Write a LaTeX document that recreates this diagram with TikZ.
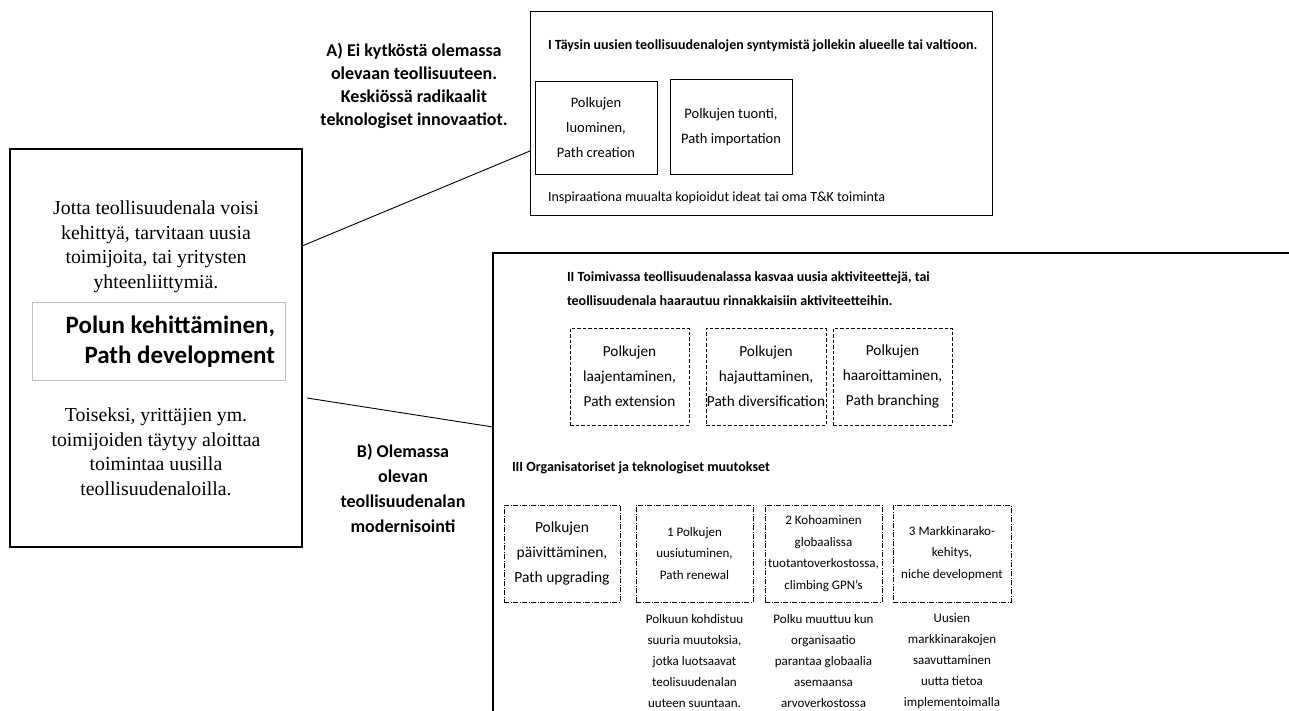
\documentclass[tikz,border=0pt]{standalone}
\usepackage{fontspec}
\setmainfont{Carlito}
\newfontfamily\timesf{Liberation Serif}
\usetikzlibrary{calc}
\begin{document}
\begin{tikzpicture}[x=1pt,y=-1pt,
  every node/.style={inner sep=0pt,outer sep=0pt},
  mainbox/.style={draw,line width=2.4pt},
  framebox/.style={draw,line width=1pt},
  greybox/.style={draw=black!25,line width=0.7pt},
  solidbox/.style={draw,line width=0.9pt,align=center,font=\fontsize{14.5}{25}\selectfont},
  dashbox/.style={draw,line width=0.8pt,dash pattern=on 3.5pt off 2pt,align=center,font=\fontsize{15.3}{25}\selectfont},
  dotbox/.style={draw,line width=0.8pt,dash pattern=on 5pt off 1.5pt on 1pt off 1.5pt,align=center,font=\fontsize{13}{21.7}\selectfont},
  bigdot/.style={dotbox,font=\fontsize{15.5}{25}\selectfont},
  lbl/.style={align=center,font=\bfseries\fontsize{18}{24}\selectfont},
  serif/.style={align=center,font=\timesf\fontsize{19.8}{24.5}\selectfont},
  ttl/.style={align=left,anchor=west,font=\bfseries\fontsize{14}{24}\selectfont},
  plain/.style={align=center,font=\fontsize{13}{21}\selectfont},
  conn/.style={line width=0.9pt}
]
\useasboundingbox (0,0) rectangle (1289,711);

% left box
\node[mainbox,minimum width=292pt,minimum height=398pt] (leftbox) at (156,348) {};
\node[serif] (ltext) at (156,247) {Jotta teollisuudenala voisi\\kehittyä, tarvitaan uusia\\toimijoita, tai yritysten\\yhteenliittymiä.};
\node[greybox,minimum width=253pt,minimum height=78pt] (devbox) at (158.5,341) {};
\node[align=right,anchor=east,font=\bfseries\fontsize{25}{30}\selectfont] (devtext) at (275,342) {Polun kehittäminen,\\Path development};
\node[serif] (ltext2) at (156,452) {Toiseksi, yrittäjien ym.\\toimijoiden täytyy aloittaa\\toimintaa uusilla\\teollisuudenaloilla.};

% labels
\node[lbl,font=\bfseries\fontsize{18}{23}\selectfont] (labA) at (414,86) {A) Ei kytköstä olemassa\\olevaan teollisuuteen.\\Keskiössä radikaalit\\teknologiset innovaatiot.};
\node[lbl,font=\bfseries\fontsize{18}{25}\selectfont] (labB) at (403,488) {B) Olemassa\\olevan\\teollisuudenalan\\modernisointi};

% box I
\node[framebox,minimum width=462pt,minimum height=204pt] (boxI) at (761,114) {};
\node[ttl] (ttlI) at (548,46) {I Täysin uusien teollisuudenalojen syntymistä jollekin alueelle tai valtioon.};
\node[solidbox,minimum width=122pt,minimum height=93pt] (creation) at (596,127.5) {Polkujen\\luominen,\\Path creation};
\node[solidbox,minimum width=122pt,minimum height=95pt] (import) at (731,127) {Polkujen tuonti,\\Path importation};
\node[anchor=west,font=\fontsize{14}{20}\selectfont] (inspire) at (548,198) {Inspiraationa muualta kopioidut ideat tai oma T\&K toiminta};

% big box II/III (right and bottom edges lie outside the picture)
\coordinate (bigTR) at (1295,253);
\coordinate (bigTL) at (493,253);
\coordinate (bigBL) at (493,720);
\draw[line width=1.2pt] (bigTR) -- (bigTL) -- (bigBL);

\node[ttl,align=left] (ttlII) at (567,289) {II Toimivassa teollisuudenalassa kasvaa uusia aktiviteettejä, tai\\teollisuudenala haarautuu rinnakkaisiin aktiviteetteihin.};
\node[dashbox,minimum width=119pt,minimum height=97pt] (ext) at (629.5,376.5) {Polkujen\\laajentaminen,\\Path extension};
\node[dashbox,minimum width=120pt,minimum height=97pt] (div) at (766,376.5) {Polkujen\\hajauttaminen,\\Path diversification};
\node[dashbox,minimum width=119pt,minimum height=97pt] (branch) at (892.5,376.5) {Polkujen\\haaroittaminen,\\Path branching};

\node[ttl] (ttlIII) at (512,468) {III Organisatoriset ja teknologiset muutokset};
\node[bigdot,minimum width=116pt,minimum height=97pt] (upg) at (562,553.5) {Polkujen\\päivittäminen,\\Path upgrading};
\node[dotbox,minimum width=117pt,minimum height=97pt] (renew) at (694.5,553.5) {1 Polkujen\\uusiutuminen,\\Path renewal};
\node[dotbox,minimum width=117pt,minimum height=97pt] (gpn) at (823.5,553.5) {2 Kohoaminen\\globaalissa\\tuotantoverkostossa,\\climbing GPN’s};
\node[dotbox,minimum width=118pt,minimum height=97pt] (niche) at (952,553.5) {3 Markkinarako-\\kehitys,\\niche development};

\node[plain] (renewtxt) at (694.5,661) {Polkuun kohdistuu\\suuria muutoksia,\\jotka luotsaavat\\teolisuudenalan\\uuteen suuntaan.};
\node[plain] (gpntxt) at (823.5,661) {Polku muuttuu kun\\organisaatio\\parantaa globaalia\\asemaansa\\arvoverkostossa};
\node[plain] (nichetxt) at (952,661) {Uusien\\markkinarakojen\\saavuttaminen\\uutta tietoa\\implementoimalla};

% connectors
\draw[conn] ($(leftbox.north east)+(0,97)$) -- ($(boxI.north west)+(0,139)$);
\draw[conn] ($(leftbox.north east)+(5,249)$) -- ($(bigTL)+(0,174)$);
\end{tikzpicture}
\end{document}
